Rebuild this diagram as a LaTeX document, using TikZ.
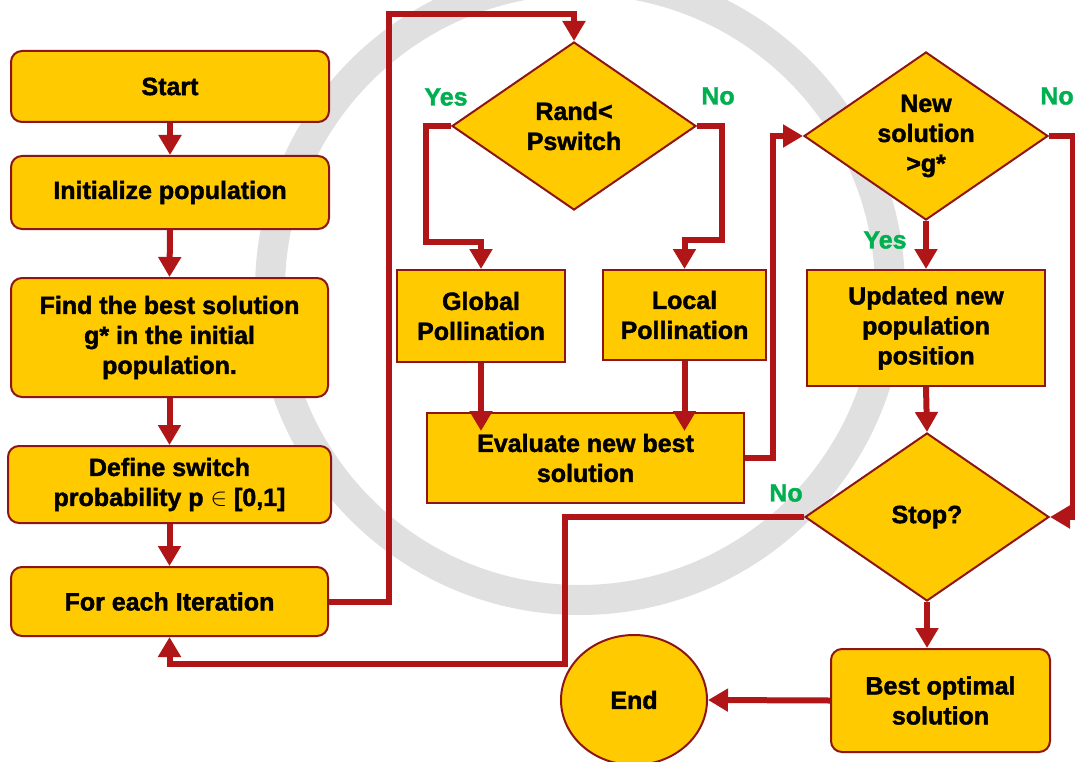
\documentclass[tikz,border=0pt]{standalone}
\usepackage{fontspec}
\setmainfont{Liberation Sans}
\newfontfamily\heavy[FakeBold=1.6]{Liberation Sans Bold}
\usetikzlibrary{shapes.geometric,arrows.meta}
\definecolor{boxfill}{RGB}{255,202,0}
\definecolor{boxline}{RGB}{140,22,22}
\definecolor{flowred}{RGB}{176,22,24}
\definecolor{ansgreen}{RGB}{0,176,80}
\definecolor{wmgray}{RGB}{224,224,224}

\begin{document}
\begin{tikzpicture}[x=1pt,y=1pt,
  box/.style={rectangle,draw=boxline,fill=boxfill,line width=2pt,inner sep=0pt,align=center,font=\fontsize{25}{30}\selectfont\heavy},
  rbox/.style={box,rounded corners=11pt},
  cond/.style={box,diamond,aspect=1.45,minimum width=244pt,minimum height=168pt},
  flow/.style={flowred,line width=6pt,-{Triangle[width=22pt,length=20pt]}},
  ans/.style={text=ansgreen,font=\fontsize{25}{30}\selectfont\heavy}]
\useasboundingbox (0,0) rectangle (1075,-762);
\draw [wmgray,line width=30pt] (580,-290) circle (310);

\node[rbox,minimum width=318pt,minimum height=71pt] (start) at (170,-86.5) {Start};
\node[rbox,minimum width=318pt,minimum height=73pt] (init) at (170,-192.5) {Initialize population};
\node[rbox,minimum width=317pt,minimum height=119pt] (find) at (169.5,-337.5) {Find the best solution\\g* in the initial\\population.};
\node[rbox,minimum width=323pt,minimum height=77pt] (def) at (169.5,-484.5) {Define switch\\probability p $\in$ [0,1]};
\node[rbox,minimum width=317pt,minimum height=69pt] (iter) at (169.5,-601.5) {For each Iteration};

\node[cond] (rand) at (574,-126) {Rand<\\Pswitch};
\node[box,minimum width=168pt,minimum height=92pt] (glob) at (481,-316) {Global\\Pollination};
\node[box,minimum width=163pt,minimum height=90pt] (loc) at (684.5,-315) {Local\\Pollination};
\node[box,minimum width=317pt,minimum height=90pt] (eval) at (585.5,-458) {Evaluate new best\\solution};

\node[cond] (new) at (926,-136) {New\\solution\\>g*};
\node[box,minimum width=238pt,minimum height=116pt] (upd) at (926,-328) {Updated new\\population\\position};
\node[cond] (stop) at (927,-517) {Stop?};
\node[rbox,minimum width=219pt,minimum height=103pt] (opt) at (940.5,-700.5) {Best optimal\\solution};
\node[box,ellipse,minimum width=146pt,minimum height=130pt] (end) at (634,-700) {End};

\node[ans] (yes1) at (446,-97) {Yes};
\node[ans] (no1) at (718,-96) {No};
\node[ans] (yes2) at (885,-240) {Yes};
\node[ans] (no2) at (1057,-96) {No};
\node[ans] (no3) at (786,-493) {No};

\foreach \a/\b in {start/init,init/find,find/def,def/iter}
  \draw[flow] (\a.south) -- (\b.north);
\draw[flow] (iter.east) -- ++(60,0) |- ([yshift=27pt]rand.north) -- (rand.north);
\draw[flow] (rand.west) -- ++(-25,0) |- ([yshift=27pt]glob.north) -- (glob.north);
\draw[flow] (rand.east) -- ++(25,0) |- ([yshift=29pt]loc.north) -- (loc.north);
\draw[flow] (glob.south) -- ([yshift=-19pt]glob.south |- eval.north);
\draw[flow] (loc.south) -- ([yshift=-19pt]loc.south |- eval.north);
\draw[flow] (eval.east) -- ++(28,0) |- (new.west);
\draw[flow] (new.south) -- (upd.north);
\draw[flow] (new.east) -- ++(24,0) |- (stop.east);
\draw[flow] (upd.south) -- (stop.north);
\draw[flow] (stop.west) -- ++(-239,0) |- ([yshift=-27pt]iter.south) -- (iter.south);
\draw[flow] (stop.south) -- (stop.south |- opt.north);
\draw[flow] (opt.west) -- (end.east);
\end{tikzpicture}
\end{document}
